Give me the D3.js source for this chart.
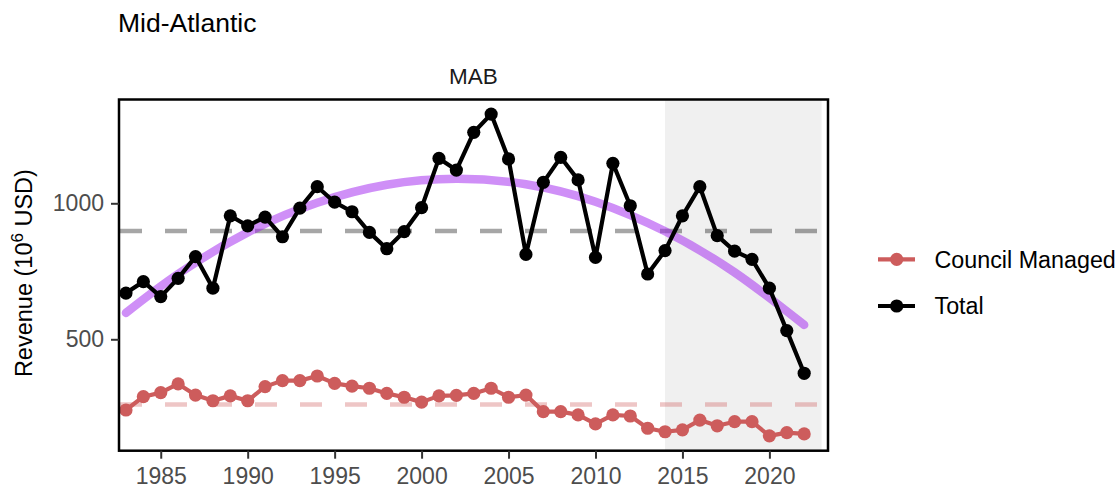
<!DOCTYPE html>
<html>
<head>
<meta charset="utf-8">
<script src="https://cdn.jsdelivr.net/npm/d3@7"></script>
<style>
body { margin: 0; background: #fff; }
svg { font-family: "Liberation Sans", Arial, Helvetica, sans-serif; }
</style>
</head>
<body>
<svg id="chart"></svg>
<script>
var width = 1120,
    height = 487;

// data (revenue, 10^6 USD)
const years = [1983, 1984, 1985, 1986, 1987, 1988, 1989, 1990, 1991, 1992,
               1993, 1994, 1995, 1996, 1997, 1998, 1999, 2000, 2001, 2002,
               2003, 2004, 2005, 2006, 2007, 2008, 2009, 2010, 2011, 2012,
               2013, 2014, 2015, 2016, 2017, 2018, 2019, 2020, 2021, 2022];
const total = [670, 712, 657, 724, 804, 688, 954, 917, 949, 877,
               982, 1061, 1004, 969, 893, 833, 896, 984, 1165, 1122,
               1261, 1328, 1163, 812, 1077, 1169, 1086, 801, 1147, 991,
               740, 826, 954, 1061, 881, 824, 794, 688, 532, 375];
const council = [240, 289, 304, 336, 295, 274, 292, 274, 326, 348,
                 348, 365, 338, 328, 320, 301, 287, 269, 292, 294,
                 301, 320, 287, 295, 234, 234, 222, 189, 222, 218,
                 173, 160, 167, 203, 182, 197, 197, 145, 157, 152];
// long-term trend of the total (purple curve)
const trendYears = [1983, 1986, 1990, 1994, 1998, 2002, 2006, 2010, 2014, 2018, 2022];
const trendValues = [597, 740, 893, 1002, 1068, 1090, 1070, 1006, 897, 746, 553];
const meanTotal = 898;
const meanCouncil = 260;
const shadeYears = [2014, 2023];
const xTicks = [1985, 1990, 1995, 2000, 2005, 2010, 2015, 2020];
const yTicks = [500, 1000];
const seriesNames = ["Council Managed", "Total"];
const seriesColors = ["#cd5c5c", "#000000"];

const panel = {left: 119, right: 828, top: 99.5, bottom: 450.7};

const x = d3.scaleLinear()
    .domain([1982.6, 2023.37])
    .range([panel.left, panel.right]);

const y = d3.scaleLinear()
    .domain([90.4, 1381.6])
    .range([panel.bottom, panel.top]);

const svg = d3.select("#chart")
    .attr("width", width)
    .attr("height", height);

svg.append("defs").append("clipPath")
    .attr("id", "panelClip")
    .append("rect")
    .attr("x", panel.left)
    .attr("y", panel.top)
    .attr("width", panel.right - panel.left)
    .attr("height", panel.bottom - panel.top);

const plot = svg.append("g").attr("clip-path", "url(#panelClip)");

// shaded recent period
plot.append("rect")
    .attr("x", x(shadeYears[0]))
    .attr("y", panel.top)
    .attr("width", x(shadeYears[1]) - x(shadeYears[0]))
    .attr("height", panel.bottom - panel.top)
    .attr("fill", "#f0f0f0");

// mean lines
[[meanCouncil, "#cd5c5c"], [meanTotal, "#000000"]].forEach(function (m) {
    plot.append("line")
        .attr("x1", panel.left + 1)
        .attr("x2", panel.right)
        .attr("y1", y(m[0]))
        .attr("y2", y(m[0]))
        .attr("stroke", m[1])
        .attr("stroke-opacity", 0.35)
        .attr("stroke-width", 4.5)
        .attr("stroke-dasharray", "22,23");
});

// trend
const trendLine = d3.line()
    .x(function (d, i) { return x(trendYears[i]); })
    .y(function (d) { return y(d); })
    .curve(d3.curveNatural);

plot.append("path")
    .datum(trendValues)
    .attr("d", trendLine)
    .attr("fill", "none")
    .attr("stroke", "#a020f0")
    .attr("stroke-opacity", 0.5)
    .attr("stroke-width", 8.5)
    .attr("stroke-linecap", "round");

// series
const line = d3.line()
    .x(function (d, i) { return x(years[i]); })
    .y(function (d) { return y(d); });

[council, total].forEach(function (values, k) {
    plot.append("path")
        .datum(values)
        .attr("d", line)
        .attr("fill", "none")
        .attr("stroke", seriesColors[k])
        .attr("stroke-width", 4.2)
        .attr("stroke-linejoin", "round");

    plot.selectAll(".pt" + k)
        .data(values)
        .enter().append("circle")
        .attr("class", "pt" + k)
        .attr("cx", function (d, i) { return x(years[i]); })
        .attr("cy", function (d) { return y(d); })
        .attr("r", 6.6)
        .attr("fill", seriesColors[k]);
});

// panel border
svg.append("rect")
    .attr("x", panel.left)
    .attr("y", panel.top)
    .attr("width", panel.right - panel.left)
    .attr("height", panel.bottom - panel.top)
    .attr("fill", "none")
    .attr("stroke", "#000")
    .attr("stroke-width", 2.5);

// axes
const xAxis = svg.append("g")
    .attr("transform", "translate(0," + panel.bottom + ")")
    .call(d3.axisBottom(x).tickValues(xTicks).tickFormat(d3.format("d"))
        .tickSize(8).tickPadding(9));

const yAxis = svg.append("g")
    .attr("transform", "translate(" + panel.left + ",0)")
    .call(d3.axisLeft(y).tickValues(yTicks).tickFormat(d3.format("d"))
        .tickSize(8).tickPadding(7));

[xAxis, yAxis].forEach(function (g) {
    g.select(".domain").remove();
    g.selectAll(".tick line").attr("stroke", "#333").attr("stroke-width", 2);
    g.selectAll(".tick text")
        .attr("fill", "#4d4d4d")
        .style("font-size", "23px")
        .style("font-family", "'Liberation Sans', Arial, Helvetica, sans-serif");
});

// titles
svg.append("text")
    .attr("x", 118)
    .attr("y", 32)
    .style("font-size", "26.5px")
    .attr("fill", "#000")
    .text("Mid-Atlantic");

svg.append("text")
    .attr("x", (panel.left + panel.right) / 2)
    .attr("y", 84)
    .attr("text-anchor", "middle")
    .style("font-size", "22.5px")
    .attr("fill", "#1a1a1a")
    .text("MAB");

const yTitle = svg.append("text")
    .attr("transform", "translate(32," + ((panel.top + panel.bottom) / 2 - 2) + ") rotate(-90)")
    .attr("text-anchor", "middle")
    .style("font-size", "23.5px")
    .attr("fill", "#000");
yTitle.append("tspan").text("Revenue (10");
yTitle.append("tspan").attr("dy", "-9").style("font-size", "17px").text("6");
yTitle.append("tspan").attr("dy", "9").text(" USD)");

// legend
const legend = svg.append("g");
seriesNames.forEach(function (name, k) {
    const ly = [259.3, 306][k];
    legend.append("line")
        .attr("x1", 878).attr("x2", 915)
        .attr("y1", ly).attr("y2", ly)
        .attr("stroke", seriesColors[k])
        .attr("stroke-width", 4.2);
    legend.append("circle")
        .attr("cx", 896.7).attr("cy", ly)
        .attr("r", 6.6)
        .attr("fill", seriesColors[k]);
    legend.append("text")
        .attr("x", 934.5)
        .attr("y", ly + 8.2)
        .style("font-size", "23.3px")
        .attr("fill", "#000")
        .text(name);
});
</script>
</body>
</html>
